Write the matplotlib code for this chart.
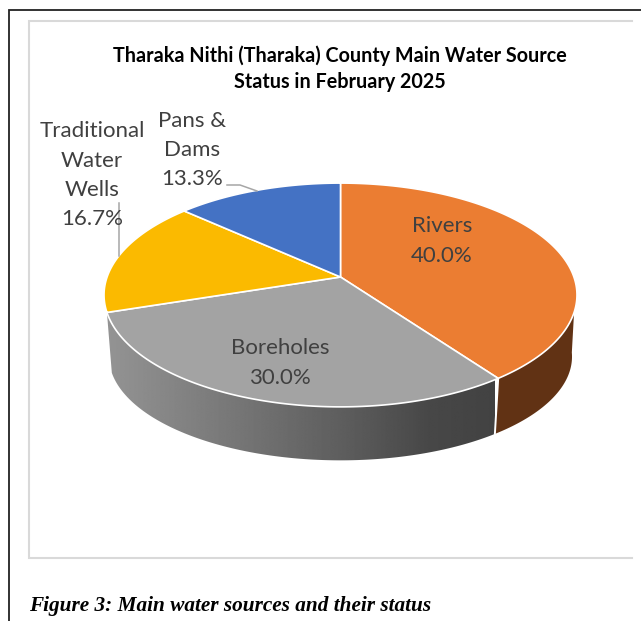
import numpy as np
import matplotlib
matplotlib.use("Agg")
import matplotlib.pyplot as plt
from matplotlib.patches import Polygon

categories = ["Rivers", "Boreholes", "Traditional Water Wells", "Pans & Dams"]
shares = [40.0, 30.0, 16.7, 13.3]
top_colors = ["#EB7D32", "#A3A3A3", "#FBBA00", "#4472C4"]
title_lines = ["Tharaka Nithi (Tharaka) County Main Water Source", "Status in February 2025"]
caption = "Figure 3: Main water sources and their status"
label_lines = {
    "Rivers": (["Rivers", "40.0%"], 442, [225.5, 255.5]),
    "Boreholes": (["Boreholes", "30.0%"], 280, [347.5, 377.5]),
    "Traditional Water Wells": (["Traditional", "Water", "Wells", "16.7%"], 92, [131, 161, 190, 219]),
    "Pans & Dams": (["Pans &", "Dams", "13.3%"], 192.5, [121, 150, 179]),
}

W, H = 641, 621
fig = plt.figure(figsize=(W / 100, H / 100), dpi=100, facecolor="white")
ax = fig.add_axes([0, 0, 1, 1])
ax.set_xlim(0, W)
ax.set_ylim(H, 0)
ax.axis("off")

K = 0.1607
CX = 340.5


def rim(a0, a1, ax_scale, by_scale, y0, n=200):
    """Perspective projection of a circle arc; angles in degrees clockwise from top."""
    t = np.radians(np.linspace(a0, a1, n))
    u, v = np.sin(t), np.cos(t)
    w = 1 + K * v
    return np.column_stack([CX + ax_scale * u / w, y0 - by_scale * v / w])


TOP = (233.4, 109.0, 277.0)
LOW = (228.5, 101.0, 340.0)

edges = np.concatenate([[0], np.cumsum(shares)]) / sum(shares) * 360
apex = np.array([[CX, TOP[2]]])

# side walls
ang_rb = edges[1]
ang_bw = edges[2]
river_wall = np.vstack([rim(108, ang_rb, *TOP), rim(ang_rb, 97, *LOW)])
ax.add_patch(Polygon(river_wall, closed=True, fc="#613214", ec="none", zorder=2))
bore_wall = np.vstack([rim(ang_rb, ang_bw, *TOP), rim(ang_bw, ang_rb, *LOW)])
bore_patch = Polygon(bore_wall, closed=True, fc="none", ec="none", zorder=3)
ax.add_patch(bore_patch)
grad = np.interp(np.linspace(105, 495, 400), [105, 230, 340, 430, 495], [0.58, 0.47, 0.37, 0.28, 0.26])
im = ax.imshow(grad[None, :], extent=(105, 495, 470, 300), cmap="gray", vmin=0, vmax=1,
               aspect="auto", zorder=3, interpolation="bilinear")
im.set_clip_path(bore_patch)
ax.set_xlim(0, W)
ax.set_ylim(H, 0)
seam = np.vstack([rim(ang_rb, ang_rb, *TOP, n=1), rim(ang_rb, ang_rb, *LOW, n=1)])
ax.plot(seam[:, 0], seam[:, 1], color="white", lw=1.4, zorder=4)

# top face
for i, col in enumerate(top_colors):
    pts = np.vstack([apex, rim(edges[i], edges[i + 1], *TOP)])
    ax.add_patch(Polygon(pts, closed=True, fc=col, ec="white", lw=1.2, joinstyle="round", zorder=5))

# frames
ax.plot([8.5, 8.5, W], [H, 10, 10], color="#222222", lw=1.3, zorder=1, solid_joinstyle="miter")
ax.plot([632, 29, 29, 632], [21, 21, 558, 558], color="#D9D9D9", lw=1.5, zorder=1, solid_joinstyle="miter")

# leaders
ax.plot([227, 240, 257], [185, 185, 191], color="#A6A6A6", lw=1.1, zorder=6)
ax.plot([119, 119], [203, 256], color="#A6A6A6", lw=1.1, zorder=6)

# labels
for cat in categories:
    lines, x, ys = label_lines[cat]
    for s, y in zip(lines, ys):
        ax.text(x, y, s, ha="center", va="center", fontsize=16, family="Lato", color="#404040", zorder=7)

for s, y in zip(title_lines, [55.5, 82.5]):
    ax.text(340, y, s, ha="center", va="center", fontsize=14.2, family="Lato", weight="bold", color="black", zorder=7)

ax.text(29, 606, caption, ha="left", va="center", fontsize=15.3, family="Liberation Serif",
        weight="bold", style="italic", color="black", zorder=7)

fig.savefig("out.png", dpi=100, facecolor="white")
